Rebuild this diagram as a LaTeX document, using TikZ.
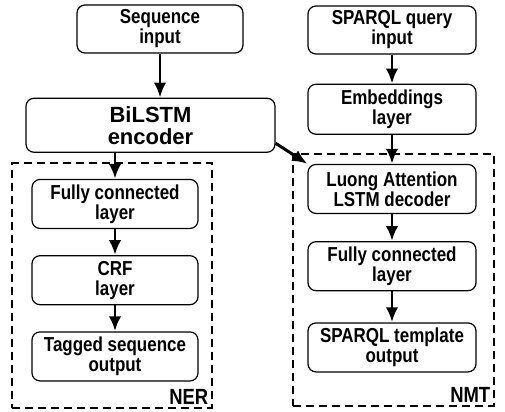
\documentclass[tikz,border=0pt]{standalone}
\usepackage{fontspec}
\newfontfamily\boxfont[FakeStretch=0.84]{Liberation Sans}
\newfontfamily\bigfont{Liberation Sans}
\usetikzlibrary{arrows.meta,positioning,fit}
\tikzset{
  box/.style={draw=black, rounded corners=0.16cm, align=center, minimum height=0.98cm, minimum width=3.32cm, inner sep=0pt, line width=0.7pt, font=\boxfont\bfseries\fontsize{11.5}{11.4}\selectfont},
  bigbox/.style={box, minimum width=4.98cm, minimum height=1.08cm, font=\bigfont\bfseries\fontsize{12.5}{12.5}\selectfont},
  group/.style={draw=black, dash pattern=on 0.16cm off 0.1cm, line width=1.1pt, inner sep=0pt},
  arrow/.style={-{Latex[length=0.3cm,width=0.25cm]}, line width=1.7pt, black},
  grouplabel/.style={font=\boxfont\bfseries\fontsize{12.5}{12.5}\selectfont, inner sep=0.08cm}
}
\begin{document}
\begin{tikzpicture}
    \useasboundingbox (0,0) rectangle (10.1,-8.22);

    % sequence branch
    \node[box, minimum height=0.96cm] (seq) at (3.2,-0.58) {Sequence\\input};
    \node[bigbox, below=0.88cm of seq, xshift=-0.19cm] (bilstm) {BiLSTM\\encoder};
    \node[box, below=0.52cm of bilstm, xshift=-0.71cm] (fcl) {Fully connected\\layer};
    \node[box, below=0.52cm of fcl] (crf) {CRF\\layer};
    \node[box, below=0.52cm of crf] (tagged) {Tagged sequence\\output};

    % query branch
    \node[box, minimum width=3.36cm, minimum height=0.96cm] (query) at (7.84,-0.6) {SPARQL query\\input};
    \node[box, minimum width=3.36cm, minimum height=1.0cm, below=0.58cm of query] (emb) {Embeddings\\layer};
    \node[box, minimum width=3.36cm, below=0.58cm of emb] (luong) {Luong Attention\\LSTM decoder};
    \node[box, minimum width=3.36cm, below=0.54cm of luong] (fcr) {Fully connected\\layer};
    \node[box, minimum width=3.36cm, below=0.62cm of fcr] (tpl) {SPARQL template\\output};

    % dashed groups
    \node[group, fit={([xshift=-0.38cm,yshift=0.32cm]fcl.north west) ([xshift=0.26cm,yshift=-0.52cm]tagged.south east)}] (ner) {};
    \node[group, fit={([xshift=-0.28cm,yshift=0.2cm]luong.north west) ([xshift=0.34cm,yshift=-0.66cm]tpl.south east)}] (nmt) {};
    \node[grouplabel, anchor=south east] (nerlabel) at (ner.south east) {NER};
    \node[grouplabel, anchor=south east] (nmtlabel) at (nmt.south east) {NMT};

    \draw[arrow] (seq.south) -- (seq.south |- bilstm.north);
    \draw[arrow] (fcl.north |- bilstm.south) -- (fcl.north);
    \draw[arrow] (fcl) -- (crf);
    \draw[arrow] (crf) -- (tagged);
    \draw[arrow] ([yshift=-0.36cm]bilstm.east) -- (luong.north west);
    \draw[arrow] (query) -- (emb);
    \draw[arrow] (emb) -- (luong);
    \draw[arrow] (luong) -- (fcr);
    \draw[arrow] (fcr) -- (tpl);
  \end{tikzpicture}
\end{document}
